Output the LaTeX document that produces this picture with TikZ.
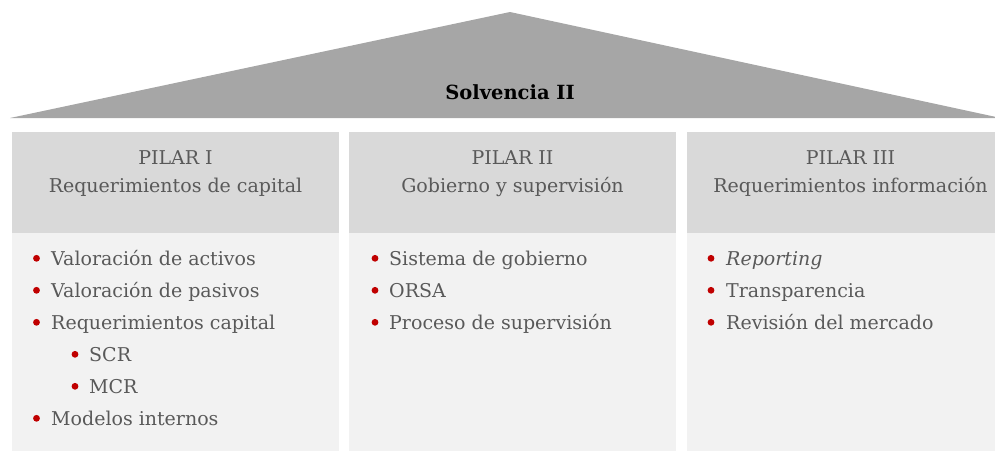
\documentclass[tikz,border=0pt]{standalone}
\usepackage{fontspec}
\setmainfont{DejaVu Serif}
\usetikzlibrary{positioning}
\definecolor{roofgray}{HTML}{A6A6A6}
\definecolor{headgray}{HTML}{D9D9D9}
\definecolor{bodygray}{HTML}{F2F2F2}
\definecolor{txtgray}{HTML}{595959}
\definecolor{dotred}{HTML}{C00000}
\begin{document}
\begin{tikzpicture}[x=1pt,y=-1pt,
  headbox/.style={fill=headgray, draw=none, minimum width=327pt, minimum height=101pt, anchor=north west, inner sep=0pt},
  bodybox/.style={fill=bodygray, draw=none, minimum width=327pt, minimum height=218pt, anchor=north west, inner sep=0pt},
  headtxt/.style={text=txtgray, font=\fontsize{19}{28}\selectfont, align=center, anchor=base, inner sep=0pt},
  itemtxt/.style={text=txtgray, font=\fontsize{19}{23}\selectfont, anchor=base west, inner sep=0pt},
  bdot/.style={circle, fill=dotred, draw=none, minimum size=6.8pt, inner sep=0pt}
]
\useasboundingbox (0,0) rectangle (995,451);
\fill[roofgray] (10,118) -- (510,12) -- (1010,120) -- (1010,118) -- cycle;
\node[anchor=base, inner sep=0pt, font=\bfseries\fontsize{19.5}{23}\selectfont] (title) at (510,99) {Solvencia II};

% boxes
\node[headbox] (h1) at (12,132) {};
\node[bodybox] (b1) at (12,233) {};
\node[headbox] (h2) at (349,132) {};
\node[bodybox] (b2) at (349,233) {};
\node[headbox] (h3) at (687,132) {};
\node[bodybox] (b3) at (687,233) {};

% header texts
\node[headtxt] (h1a) at (175.5,164) {PILAR I};
\node[headtxt] (h1b) at (175.5,192) {Requerimientos de capital};
\node[headtxt] (h2a) at (512.5,164) {PILAR II};
\node[headtxt] (h2b) at (512.5,192) {Gobierno y supervisión};
\node[headtxt] (h3a) at (850.5,164) {PILAR III};
\node[headtxt] (h3b) at (850.5,192) {Requerimientos información};

% column 1
\foreach \t/\y/\n in {Valoración de activos/265/1, Valoración de pasivos/297/2, Requerimientos capital/329/3, Modelos internos/425/6}{
  \node[itemtxt] (c1t\n) at (51,\y) {\t};
  \node[bdot] (c1d\n) at (36.5,\y-6.7) {};
}
\foreach \t/\y/\n in {SCR/361/4, MCR/393/5}{
  \node[itemtxt] (c1t\n) at (89,\y) {\t};
  \node[bdot] (c1d\n) at (75,\y-6.7) {};
}
% column 2
\foreach \t/\y/\n in {Sistema de gobierno/265/1, ORSA/297/2, Proceso de supervisión/329/3}{
  \node[itemtxt] (c2t\n) at (389,\y) {\t};
  \node[bdot] (c2d\n) at (375,\y-6.7) {};
}
% column 3
\node[itemtxt] (c3t1) at (726,265) {\itshape Reporting};
\node[bdot] (c3d1) at (711,258.3) {};
\foreach \t/\y/\n in {Transparencia/297/2, Revisión del mercado/329/3}{
  \node[itemtxt] (c3t\n) at (726,\y) {\t};
  \node[bdot] (c3d\n) at (711,\y-6.7) {};
}
\end{tikzpicture}
\end{document}
